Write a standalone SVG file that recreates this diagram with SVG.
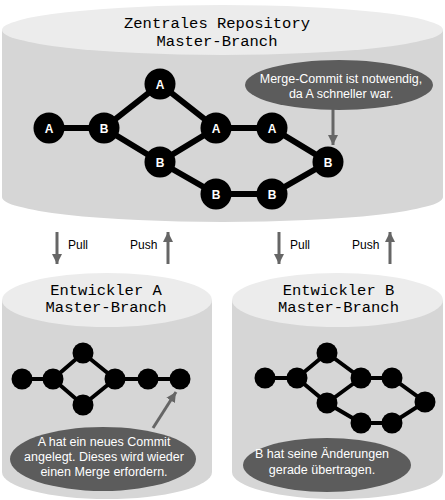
<svg xmlns="http://www.w3.org/2000/svg" width="445" height="500" viewBox="0 0 445 500">
<style>
.side{fill:#d6d6d6}
.top{fill:#ececec}
.title{font-family:"Liberation Mono","Courier New",monospace;font-size:15.5px;fill:#000;text-anchor:middle}
.bub{fill:#5c5c5c}
.bt{font-family:"Liberation Sans",Arial,sans-serif;font-size:12.5px;fill:#fff;text-anchor:middle}
.lbl{font-family:"Liberation Sans",Arial,sans-serif;font-size:12px;fill:#000}
.nd{fill:#000}
.nt{font-family:"Liberation Sans",Arial,sans-serif;font-size:12px;font-weight:bold;fill:#fff;text-anchor:middle}
.e1{stroke:#000;stroke-width:6;fill:none}
.e2{stroke:#000;stroke-width:4;fill:none}
.ga{stroke:#666;stroke-width:3;fill:none;marker-end:url(#ah)}
</style>
<defs>
<marker id="ah" markerUnits="userSpaceOnUse" markerWidth="12" markerHeight="12" viewBox="0 0 12 12" refX="10" refY="6" orient="auto">
<path d="M0,1 L10,6 L0,11 Z" fill="#666"/>
</marker>
</defs>
<rect width="445" height="500" fill="#fff"/>

<g id="repo">
<path class="side" d="M2,30 V197 A220.5,25 0 0 0 443,197 V30 Z"/>
<ellipse class="top" cx="222.5" cy="30" rx="220.5" ry="25"/>
<text class="title" x="217" y="28">Zentrales Repository</text>
<text class="title" x="217" y="46">Master-Branch</text>
</g>

<g id="devA">
<path class="side" d="M2,300 V472 A105,27 0 0 0 212,472 V300 Z"/>
<ellipse class="top" cx="107" cy="300" rx="105" ry="27"/>
<text class="title" x="106" y="295">Entwickler A</text>
<text class="title" x="106" y="312">Master-Branch</text>
</g>

<g id="devB">
<path class="side" d="M232,300 V472 A105.5,27 0 0 0 443,472 V300 Z"/>
<ellipse class="top" cx="337.5" cy="300" rx="105.5" ry="27"/>
<text class="title" x="338.5" y="295">Entwickler B</text>
<text class="title" x="338.5" y="312">Master-Branch</text>
</g>

<g id="connectors">
<path class="e1" d="M49,128 H104 L160,84 L216,128 H272 L328,162 L272,194 H216 L160,162 L104,128 M160,162 L216,128"/>
<path class="e2" d="M22,379 H53 L83,353 L115,379 H180 M53,379 L83,405 L115,379"/>
<path class="e2" d="M265,378 H297 L327,353 L361,378 H392 L425,402 L392,423 H361 L327,403 L297,378 M327,403 L361,378"/>
<line class="ga" x1="333" y1="108" x2="333" y2="145"/>
<line class="ga" x1="153" y1="428" x2="176" y2="392"/>
<line class="ga" x1="57" y1="232" x2="57" y2="264"/>
<line class="ga" x1="168" y1="264" x2="168" y2="232"/>
<line class="ga" x1="279" y1="232" x2="279" y2="264"/>
<line class="ga" x1="390" y1="264" x2="390" y2="232"/>
</g>

<g id="labels">
<text class="lbl" x="68" y="249">Pull</text>
<text class="lbl" x="130" y="249">Push</text>
<text class="lbl" x="290" y="249">Pull</text>
<text class="lbl" x="352" y="249">Push</text>
</g>

<g id="nodesRepo">
<g id="r1"><circle class="nd" cx="49" cy="128" r="15.5"/><text class="nt" x="49" y="132.5">A</text></g>
<g id="r2"><circle class="nd" cx="104" cy="128" r="15.5"/><text class="nt" x="104" y="132.5">B</text></g>
<g id="r3"><circle class="nd" cx="160" cy="84" r="15.5"/><text class="nt" x="160" y="88.5">A</text></g>
<g id="r4"><circle class="nd" cx="160" cy="162" r="15.5"/><text class="nt" x="160" y="166.5">B</text></g>
<g id="r5"><circle class="nd" cx="216" cy="128" r="15.5"/><text class="nt" x="216" y="132.5">A</text></g>
<g id="r6"><circle class="nd" cx="272" cy="128" r="15.5"/><text class="nt" x="272" y="132.5">A</text></g>
<g id="r7"><circle class="nd" cx="216" cy="194" r="15.5"/><text class="nt" x="216" y="198.5">B</text></g>
<g id="r8"><circle class="nd" cx="272" cy="194" r="15.5"/><text class="nt" x="272" y="198.5">B</text></g>
<g id="r9"><circle class="nd" cx="328" cy="162" r="15.5"/><text class="nt" x="328" y="166.5">B</text></g>
</g>

<g id="nodesA">
<circle id="a1" class="nd" cx="22" cy="379" r="10.5"/>
<circle id="a2" class="nd" cx="53" cy="379" r="10.5"/>
<circle id="a3" class="nd" cx="83" cy="353" r="10.5"/>
<circle id="a4" class="nd" cx="83" cy="405" r="10.5"/>
<circle id="a5" class="nd" cx="115" cy="379" r="10.5"/>
<circle id="a6" class="nd" cx="148" cy="379" r="10.5"/>
<circle id="a7" class="nd" cx="180" cy="379" r="10.5"/>
</g>

<g id="nodesB">
<circle id="b1" class="nd" cx="265" cy="378" r="10.5"/>
<circle id="b2" class="nd" cx="297" cy="378" r="10.5"/>
<circle id="b3" class="nd" cx="327" cy="353" r="10.5"/>
<circle id="b4" class="nd" cx="327" cy="403" r="10.5"/>
<circle id="b5" class="nd" cx="361" cy="378" r="10.5"/>
<circle id="b6" class="nd" cx="392" cy="378" r="10.5"/>
<circle id="b7" class="nd" cx="425" cy="402" r="10.5"/>
<circle id="b8" class="nd" cx="361" cy="423" r="10.5"/>
<circle id="b9" class="nd" cx="392" cy="423" r="10.5"/>
</g>

<g id="noteRepo">
<ellipse class="bub" cx="339" cy="85" rx="94" ry="25"/>
<text class="bt" x="341" y="83">Merge-Commit ist notwendig,</text>
<text class="bt" x="341" y="98">da A schneller war.</text>
</g>

<g id="noteA">
<ellipse class="bub" cx="103" cy="459" rx="93" ry="32"/>
<text class="bt" x="104" y="446">A hat ein neues Commit</text>
<text class="bt" x="104" y="461">angelegt. Dieses wird wieder</text>
<text class="bt" x="104" y="476">einen Merge erfordern.</text>
</g>

<g id="noteB">
<ellipse class="bub" cx="327" cy="465" rx="84" ry="27"/>
<text class="bt" x="322" y="458">B hat seine Änderungen</text>
<text class="bt" x="322" y="474">gerade übertragen.</text>
</g>
</svg>
